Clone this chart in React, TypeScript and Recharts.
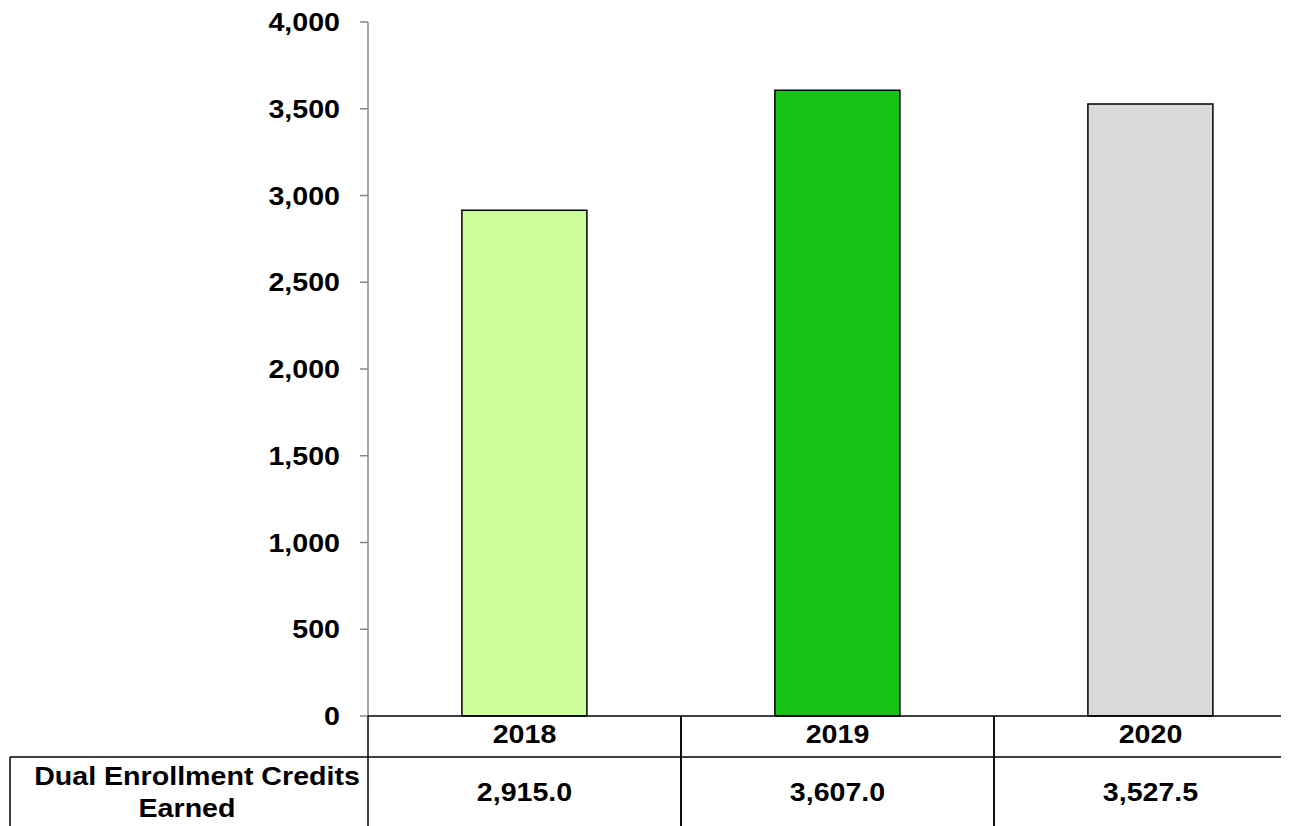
import React from "react";
import { BarChart, Bar, XAxis, YAxis, Cell } from "recharts";

const categories = ["2018", "2019", "2020"];
const credits = [2915.0, 3607.0, 3527.5];
const barColors = ["#CCFF99", "#14C314", "#D9D9D9"];
const yTicks = [0, 500, 1000, 1500, 2000, 2500, 3000, 3500, 4000];
const rowLabelLines = ["Dual Enrollment Credits", "Earned"];

const data = categories.map((c, i) => ({ year: c, value: credits[i] }));

const FONT = "'Liberation Sans', Arial, sans-serif";
const FS = 26;
const SX = 1.1;
const fmtVal = (v: number) =>
  v.toLocaleString("en-US", { minimumFractionDigits: 1, maximumFractionDigits: 1 });

const SText = ({ x, y, anchor, children }: any) => (
  <text
    transform={`translate(${x},${y}) scale(${SX},1)`}
    x={0}
    y={0}
    textAnchor={anchor}
    fontFamily={FONT}
    fontWeight="bold"
    fontSize={FS}
    fill="#000"
  >
    {children}
  </text>
);

const YTick = (props: any) => {
  const { x, y, payload } = props;
  return (
    <SText x={x} y={y + 9} anchor="end">
      {Number(payload.value).toLocaleString("en-US")}
    </SText>
  );
};

const TableTick = (props: any) => {
  const { x, y, payload, index } = props;
  const half = payload && typeof payload.offset === "number" && payload.offset > 0 ? payload.offset : 156.5;
  const left = x - half;
  const right = x + half;
  const row1 = 41;
  const bottom = 200;
  const sw = 1.5;
  return (
    <g>
      <line x1={left} y1={y} x2={left} y2={y + bottom} stroke="#000" strokeWidth={sw} />
      <line x1={right} y1={y} x2={right} y2={y + bottom} stroke="#000" strokeWidth={sw} />
      <line x1={left} y1={y + row1} x2={right} y2={y + row1} stroke="#000" strokeWidth={sw} />
      <SText x={x} y={y + 27} anchor="middle">{payload.value}</SText>
      <SText x={x} y={y + 85} anchor="middle">{fmtVal(credits[index])}</SText>
      {index === 0 && (
        <g>
          <line x1={left - 358} y1={y + row1} x2={left} y2={y + row1} stroke="#000" strokeWidth={sw} />
          <line x1={left - 358} y1={y + row1} x2={left - 358} y2={y + bottom} stroke="#000" strokeWidth={sw} />
          <SText x={left - 171} y={y + 69} anchor="middle">{rowLabelLines[0]}</SText>
          <SText x={left - 181} y={y + 101} anchor="middle">{rowLabelLines[1]}</SText>
        </g>
      )}
    </g>
  );
};

export default function App() {
  return (
    <div style={{ width: 1281, height: 818, overflow: "hidden", position: "relative", fontFamily: FONT }}>
      <BarChart
        width={1310}
        height={830}
        data={data}
        margin={{ top: 14, right: 11, bottom: 0, left: 0 }}
        barCategoryGap="30%"
      >
        <defs>
          <pattern id="grayTex" width="4" height="4" patternUnits="userSpaceOnUse">
            <rect width="4" height="4" fill="#D9D9D9" />
            <rect x="0" y="0" width="1" height="1" fill="#D2D2D2" />
            <rect x="2" y="2" width="1" height="1" fill="#E0E0E0" />
          </pattern>
        </defs>
        <YAxis
          width={360}
          domain={[0, 4000]}
          ticks={yTicks}
          interval={0}
          tickSize={8}
          tickMargin={20}
          stroke="#868686"
          axisLine={{ stroke: "#868686", strokeWidth: 1.5 }}
          tickLine={{ stroke: "#868686", strokeWidth: 1.5 }}
          tick={<YTick />}
        />
        <XAxis
          dataKey="year"
          height={122}
          interval={0}
          tickSize={0}
          tickMargin={0}
          tickLine={false}
          axisLine={{ stroke: "#000", strokeWidth: 1.5 }}
          tick={<TableTick />}
        />
        <Bar dataKey="value" isAnimationActive={false} stroke="#000" strokeWidth={1.5}>
          {data.map((d, i) => (
            <Cell key={d.year} fill={i === 2 ? "url(#grayTex)" : barColors[i]} />
          ))}
        </Bar>
      </BarChart>
    </div>
  );
}
